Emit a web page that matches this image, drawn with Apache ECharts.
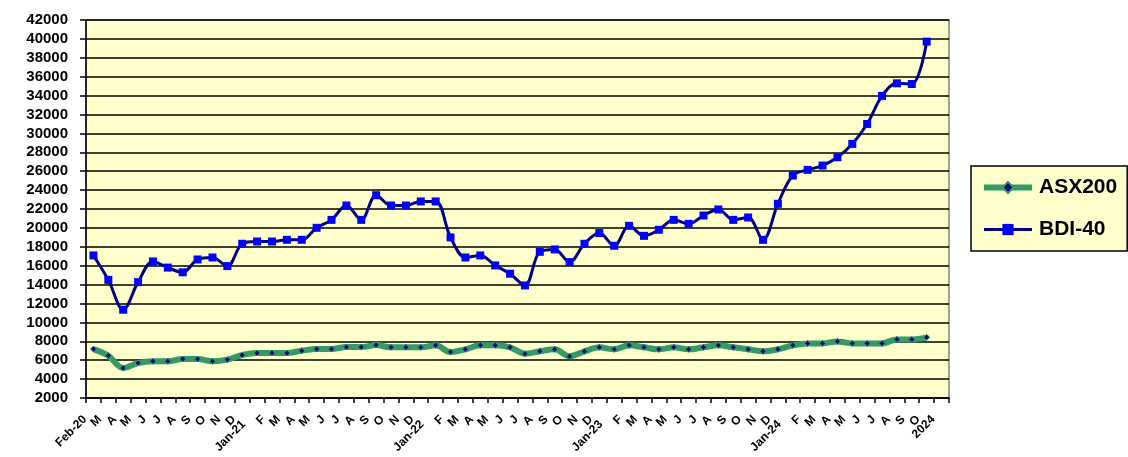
<!DOCTYPE html>
<html>
<head>
<meta charset="utf-8">
<script src="https://cdn.jsdelivr.net/npm/echarts@6/dist/echarts.min.js"></script>
<style>
  html, body { margin: 0; padding: 0; background: #fff; }
  #main { width: 1128px; height: 457px; }
</style>
</head>
<body>
<div id="main"></div>
<script>
var months = ['Feb-20', 'M', 'A', 'M', 'J', 'J', 'A', 'S', 'O', 'N', 'D',
  'Jan-21', 'F', 'M', 'A', 'M', 'J', 'J', 'A', 'S', 'O', 'N', 'D',
  'Jan-22', 'F', 'M', 'A', 'M', 'J', 'J', 'A', 'S', 'O', 'N', 'D',
  'Jan-23', 'F', 'M', 'A', 'M', 'J', 'J', 'A', 'S', 'O', 'N', 'D',
  'Jan-24', 'F', 'M', 'A', 'M', 'J', 'J', 'A', 'S', 'O', '2024'];

var asx200 = [7180, 6480, 5170, 5700, 5880, 5880, 6130, 6130, 5880, 6060, 6550,
  6760, 6760, 6760, 7000, 7180, 7180, 7390, 7390, 7600, 7360, 7360, 7360,
  7570, 6870, 7150, 7570, 7570, 7360, 6690, 6940, 7150, 6410, 6940, 7360,
  7150, 7570, 7360, 7150, 7360, 7150, 7360, 7570, 7360, 7150, 6940, 7150,
  7570, 7780, 7780, 7990, 7780, 7780, 7780, 8200, 8200, 8420];

var bdi40 = [17085, 14500, 11340, 14260, 16450, 15800, 15300, 16660, 16870, 15960, 18320,
  18560, 18560, 18740, 18740, 20010, 20850, 22370, 20850, 23460, 22370, 22370, 22800,
  22800, 18990, 16870, 17085, 16030, 15150, 13910, 17470, 17720, 16380, 18320, 19450,
  18110, 20220, 19160, 19800, 20850, 20430, 21310, 21950, 20850, 21100, 18740, 22550,
  25540, 26140, 26600, 27480, 28890, 31000, 33970, 35300, 35230, 39710];

// Jan-xx labels sit a little lower in the original
var catData = months.map(function (m) {
  if (m.indexOf('Jan-') === 0) {
    return { value: m, textStyle: { padding: [0, 19, 0, 0] } };
  }
  return m;
});

var chart = echarts.init(document.getElementById('main'));

var option = {
  animation: false,
  backgroundColor: '#ffffff',
  textStyle: { fontFamily: 'Arial, "Liberation Sans", sans-serif' },
  grid: {
    left: 86, top: 20, right: 179, bottom: 59,
    show: true,
    backgroundColor: '#FFFFCC',
    borderColor: '#808080',
    borderWidth: 1.5
  },
  legend: {
    orient: 'vertical',
    left: 971,
    top: 166,
    data: [
      { name: 'ASX200', lineStyle: { width: 6, color: '#339966' } },
      { name: 'BDI-40', lineStyle: { width: 3, color: '#000080' } }
    ],
    backgroundColor: '#FFFFCC',
    borderColor: '#000000',
    borderWidth: 1.5,
    borderRadius: 0,
    padding: [11, 10, 11, 10],
    itemWidth: 48,
    itemHeight: 14,
    itemGap: 21,
    textStyle: { fontSize: 21, fontWeight: 'bold', color: '#000', padding: [0, 0, 0, 2] }
  },
  xAxis: {
    type: 'category',
    data: catData,
    boundaryGap: true,
    axisLine: { lineStyle: { color: '#000', width: 1.5 } },
    axisTick: { show: true, length: 5, lineStyle: { color: '#000', width: 1.5 } },
    axisLabel: {
      interval: 0,
      rotate: 45,
      margin: 11,
      color: '#000',
      fontSize: 12,
      fontWeight: 'bold',
      padding: [0, 12, 0, 0]
    },
    splitLine: { show: false }
  },
  yAxis: {
    type: 'value',
    min: 2000,
    max: 42000,
    interval: 2000,
    axisLine: { show: true, lineStyle: { color: '#000', width: 1.5 } },
    axisTick: { show: true, length: 6, lineStyle: { color: '#000', width: 1.5 } },
    axisLabel: {
      color: '#000', fontSize: 15, fontWeight: 'bold', margin: 18,
      formatter: function (v) { return String(v); }
    },
    splitLine: { show: true, lineStyle: { color: '#000', width: 1.5 } }
  },
  series: [
    {
      name: 'ASX200',
      type: 'line',
      data: asx200,
      smooth: 0.35,
      symbol: 'diamond',
      symbolSize: 6,
      lineStyle: { color: '#339966', width: 6 },
      itemStyle: { color: '#000080', borderColor: '#339966', borderWidth: 1 }
    },
    {
      name: 'BDI-40',
      type: 'line',
      data: bdi40,
      smooth: 0.35,
      symbol: 'rect',
      symbolSize: 8,
      lineStyle: { color: '#000080', width: 3 },
      itemStyle: { color: '#0000FF' }
    }
  ]
};

chart.setOption(option);
</script>
</body>
</html>
